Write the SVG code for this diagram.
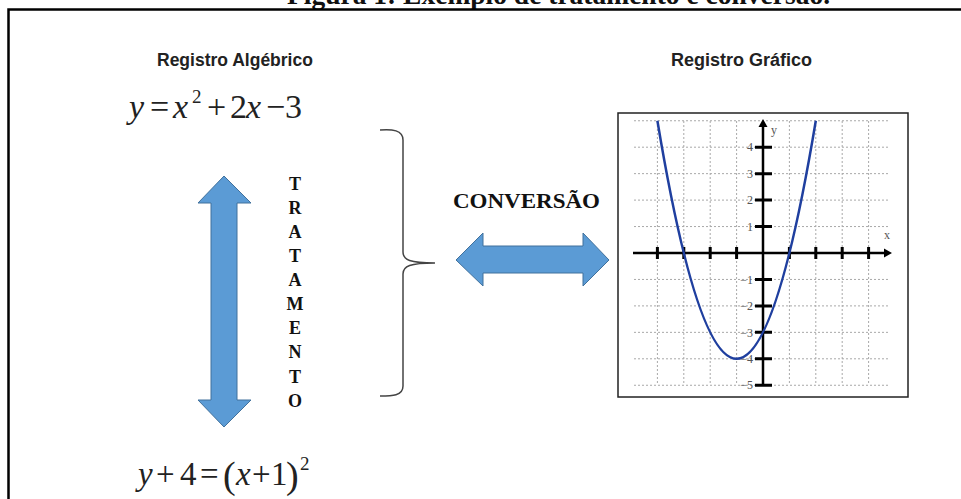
<svg xmlns="http://www.w3.org/2000/svg" width="961" height="499" viewBox="0 0 961 499">
<defs>
<style>
.serifb{font-family:"Liberation Serif","Times New Roman",serif;font-weight:bold;fill:#111}
.sansb{font-family:"Liberation Sans",Arial,sans-serif;font-weight:bold;fill:#222}
.math{font-family:"Liberation Serif","Times New Roman",serif;fill:#222}
.it{font-style:italic}
.arrow{fill:#5b9bd5;stroke:#41719c;stroke-width:1}
.grid{stroke:#a8a8a8;stroke-width:1;stroke-dasharray:2 2;fill:none}
.axis{stroke:#000;stroke-width:2.5;fill:none}
.tick{stroke:#000;stroke-width:3}
.lbl{font-family:"Liberation Serif","Times New Roman",serif;font-size:12px;fill:#555}
</style>
</defs>
<rect width="961" height="499" fill="#fff"/>
<text class="serifb" x="287" y="3.5" font-size="27.5">Figura 1: Exemplo de tratamento e conversão.</text>
<path d="M8.5,499 L8.5,9.5 L961,9.5" fill="none" stroke="#000" stroke-width="2.5"/>

<g id="titulo-algebrico"><text class="sansb" x="157" y="66" font-size="17.5">Registro Algébrico</text></g>
<g id="titulo-grafico"><text class="sansb" x="671" y="66" font-size="18">Registro Gráfico</text></g>

<g id="formula-1" class="math" font-size="34">
<text x="129" y="118" class="it">y</text>
<text x="150" y="118">=</text>
<text x="173" y="118" class="it">x</text>
<text x="192" y="103" font-size="19">2</text>
<text x="207" y="118">+</text>
<text x="230" y="118">2</text>
<text x="246" y="118" class="it">x</text>
<text x="266" y="118">−</text>
<text x="285" y="118">3</text>
</g>

<g id="formula-2" class="math" font-size="33">
<text x="138" y="485" class="it">y</text>
<text x="156" y="485">+</text>
<text x="180" y="485">4</text>
<text x="200" y="485">=</text>
<text x="223" y="488" font-size="38">(</text>
<text x="236" y="485" class="it">x</text>
<text x="252" y="485">+</text>
<text x="271" y="485">1</text>
<text x="286" y="488" font-size="38">)</text>
<text x="300" y="470" font-size="19">2</text>
</g>

<g id="seta-tratamento">
<path class="arrow" d="M224,176 L251,203 L237,203 L237,400 L251,400 L224,427 L198,400 L211,400 L211,203 L198,203 Z"/>
</g>

<g id="rotulo-tratamento" class="serifb" font-size="18" text-anchor="middle">
<text x="295" y="190">T</text>
<text x="295" y="214">R</text>
<text x="295" y="238">A</text>
<text x="295" y="262">T</text>
<text x="295" y="286">A</text>
<text x="295" y="310">M</text>
<text x="295" y="334">E</text>
<text x="295" y="358">N</text>
<text x="295" y="383">T</text>
<text x="295" y="407">O</text>
</g>

<g id="chave">
<path d="M380,130 C392,129 403,130 403,140 L403,252 C403,260 410,263 435,263 C410,263 403,266 403,274 L403,386 C403,396 392,396 380,396" fill="none" stroke="#444" stroke-width="1.5"/>
</g>

<g id="rotulo-conversao"><text class="serifb" x="453" y="208" font-size="21" textLength="147" lengthAdjust="spacingAndGlyphs">CONVERSÃO</text></g>

<g id="seta-conversao">
<path class="arrow" d="M456,260 L483,233 L483,246 L583,246 L583,233 L609,260 L583,286 L583,273 L483,273 L483,286 Z"/>
</g>

<g id="grafico">
<rect x="618" y="113" width="290" height="284" fill="#fff" stroke="#222" stroke-width="1.5"/>
<g class="grid">
<path d="M657.4,121V385M683.8,121V385M710.2,121V385M736.6,121V385M789.4,121V385M815.8,121V385M842.2,121V385M868.6,121V385"/>
<path d="M634,120.75H890M634,147.2H890M634,173.65H890M634,200.1H890M634,226.55H890M634,279.45H890M634,305.9H890M634,332.35H890M634,358.8H890M634,385.25H890"/>
</g>
<path class="axis" d="M633,253H886M763,385.5V125"/>
<path d="M884,248.5 L892,253 L884,257.5 Z M758.5,127 L763,119 L767.5,127 Z" fill="#000"/>
<g class="tick">
<path d="M657.4,247V259M683.8,247V259M710.2,247V259M736.6,247V259M789.4,247V259M815.8,247V259M842.2,247V259M868.6,247V259"/>
<path d="M755,147.2H772M755,173.65H772M755,200.1H772M755,226.55H772M755,279.45H772M755,305.9H772M755,332.35H772M755,358.8H772M755,385.25H772"/>
</g>
<g class="lbl" text-anchor="end">
<text x="753" y="151">4</text>
<text x="753" y="177.5">3</text>
<text x="753" y="204">2</text>
<text x="753" y="230.5">1</text>
<text x="753" y="283.5">−1</text>
<text x="753" y="310">−2</text>
<text x="753" y="336.5">−3</text>
<text x="753" y="363">−4</text>
<text x="753" y="389">−5</text>
</g>
<text class="lbl" x="771" y="134">y</text>
<text class="lbl" x="884" y="239">x</text>
<path d="M657.4,120.75 Q736.6,596.85 815.8,120.75" fill="none" stroke="#1f3f9f" stroke-width="2.5"/>
</g>
</svg>
